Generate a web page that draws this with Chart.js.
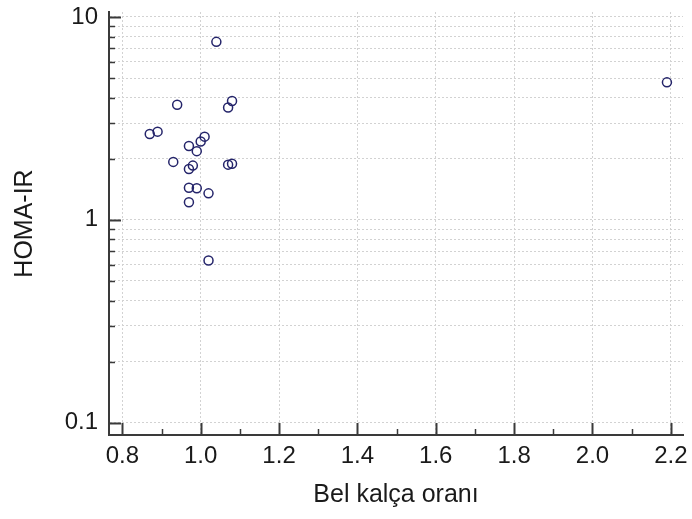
<!DOCTYPE html>
<html>
<head>
<meta charset="utf-8">
<script src="https://cdn.jsdelivr.net/npm/chart.js@4.4.1/dist/chart.umd.min.js"></script>
<style>
  body { margin: 0; background: #fff; }
  #wrap { width: 692px; height: 519px; }
</style>
</head>
<body>
<div id="wrap"><canvas id="scatterChart" width="692" height="519"></canvas></div>
<script>
// Data
const waistHip = [1.04, 0.94, 1.08, 1.07, 0.87, 0.89, 1.01, 1.00, 0.97, 0.99, 0.93, 0.98, 0.97, 1.07, 1.08, 0.97, 0.99, 1.02, 0.97, 1.02, 2.19];
const homaIR = [7.54, 3.69, 3.85, 3.58, 2.65, 2.72, 2.57, 2.43, 2.31, 2.18, 1.93, 1.85, 1.78, 1.87, 1.89, 1.44, 1.43, 1.35, 1.22, 0.63, 4.76];

// Tick values
const xMajorTicks = [0.8, 1.0, 1.2, 1.4, 1.6, 1.8, 2.0, 2.2];
const xMinorTicks = [0.9, 1.1, 1.3, 1.5, 1.7, 1.9, 2.1];
const yMajorTicks = [0.1, 1, 10];
const yGridTicks = [0.1, 0.2, 0.3, 0.4, 0.5, 0.6, 0.7, 0.8, 0.9, 1, 2, 3, 4, 5, 6, 7, 8, 9, 10];

const points = waistHip.map((x, i) => ({ x: x, y: homaIR[i] }));

const axisColor = '#3a3a3a';
const gridColor = '#d2d2d2';
const fontFamily = "'Liberation Sans', Arial, sans-serif";

// draws the small inward tick marks on both axes
const innerTicks = {
  id: 'innerTicks',
  afterDraw(chart) {
    const ctx = chart.ctx;
    const xs = chart.scales.x;
    const ys = chart.scales.y;
    const area = chart.chartArea;
    ctx.save();
    ctx.strokeStyle = axisColor;

    function tick(x1, y1, x2, y2, w) {
      ctx.lineWidth = w;
      ctx.beginPath();
      ctx.moveTo(x1, y1);
      ctx.lineTo(x2, y2);
      ctx.stroke();
    }

    xMajorTicks.forEach(v => {
      const px = Math.round(xs.getPixelForValue(v)) + 0.5;
      tick(px, area.bottom, px, area.bottom - 12, 2);
    });
    xMinorTicks.forEach(v => {
      const px = Math.round(xs.getPixelForValue(v)) + 0.5;
      tick(px, area.bottom, px, area.bottom - 6, 1.5);
    });
    yGridTicks.forEach(v => {
      const py = Math.round(ys.getPixelForValue(v)) + 0.5;
      const major = yMajorTicks.includes(v);
      tick(area.left, py, area.left + (major ? 12 : 6), py, major ? 2 : 1.5);
    });
    ctx.restore();
  }
};

new Chart(document.getElementById('scatterChart').getContext('2d'), {
  type: 'scatter',
  data: {
    datasets: [{
      data: points,
      pointRadius: 4.5,
      pointHoverRadius: 4.5,
      pointBorderWidth: 1.5,
      borderColor: '#24246a',
      backgroundColor: 'rgba(0,0,0,0)'
    }]
  },
  options: {
    responsive: false,
    animation: false,
    events: [],
    layout: { padding: { top: 12, right: 9, left: 0, bottom: 0 } },
    plugins: {
      legend: { display: false },
      tooltip: { enabled: false }
    },
    scales: {
      x: {
        type: 'linear',
        min: 0.766,
        max: 2.231,
        afterBuildTicks: scale => {
          scale.ticks = xMajorTicks.map(v => ({ value: v }));
        },
        afterFit: scale => {
          scale.height = 84;
          scale.paddingLeft = 0;
          scale.paddingRight = 0;
        },
        ticks: {
          autoSkip: false,
          maxRotation: 0,
          padding: 7,
          color: '#1a1a1a',
          font: { family: fontFamily, size: 24 },
          callback: v => Number(v).toFixed(1)
        },
        grid: { color: gridColor, lineWidth: 1, drawTicks: false },
        border: { display: true, color: axisColor, width: 2, dash: [2, 2] },
        title: {
          display: true,
          text: 'Bel kalça oranı',
          color: '#1a1a1a',
          font: { family: fontFamily, size: 25 },
          padding: { top: 0, bottom: 9 }
        }
      },
      y: {
        type: 'logarithmic',
        min: 0.0869,
        max: 10.58,
        afterBuildTicks: scale => {
          scale.ticks = yGridTicks.map(v => ({ value: v, major: yMajorTicks.includes(v) }));
        },
        afterFit: scale => {
          scale.width = 109;
          scale.paddingTop = 0;
          scale.paddingBottom = 0;
        },
        ticks: {
          autoSkip: false,
          padding: 11,
          color: '#1a1a1a',
          font: { family: fontFamily, size: 24 },
          callback: v => yMajorTicks.includes(v) ? String(v) : ''
        },
        grid: { color: gridColor, lineWidth: 1, drawTicks: false },
        border: { display: true, color: axisColor, width: 2, dash: [2, 2] },
        title: {
          display: true,
          text: 'HOMA-IR',
          color: '#1a1a1a',
          font: { family: fontFamily, size: 25 },
          padding: { top: 10, bottom: 0 }
        }
      }
    }
  },
  plugins: [innerTicks]
});
</script>
</body>
</html>
